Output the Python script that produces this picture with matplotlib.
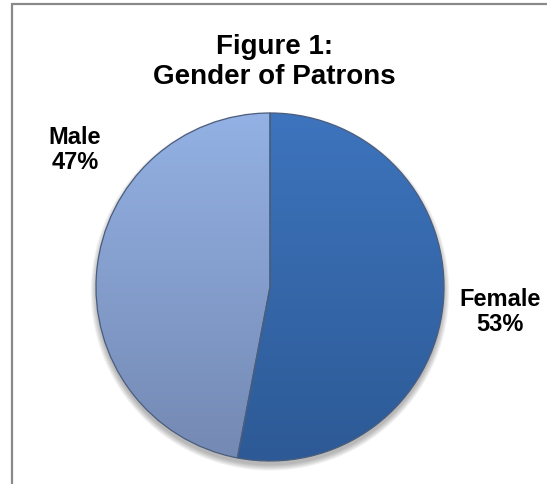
import numpy as np
import matplotlib
matplotlib.use("Agg")
import matplotlib.pyplot as plt
from matplotlib.patches import Rectangle, Circle

# data
labels = ["Female", "Male"]
shares = [53, 47]
title = "Figure 1:\nGender of Patrons"

plt.rcParams["font.family"] = ["Liberation Sans", "DejaVu Sans"]

W, H = 547, 484
fig = plt.figure(figsize=(W / 100, H / 100), dpi=100)
fig.patch.set_facecolor("white")

# outer frame (only left and top are inside the picture)
fig.patches.append(Rectangle((12 / W, -0.05), 1.2, (H - 4) / H + 0.05,
                             transform=fig.transFigure, fill=False,
                             edgecolor="#8a8a8a", linewidth=1.6))

# pie axes: centre at (270, 287) px from top-left, radius 174 px
cx, cy, r = 270, H - 287, 174
ax = fig.add_axes([(cx - r) / W, (cy - r) / H, 2 * r / W, 2 * r / H])
ax.axis("off")

# soft shadow under the pie
for k in range(6):
    ax.add_patch(Circle((0, -0.025), 1.0 + 0.006 * k, color="black",
                        alpha=0.05, lw=0, zorder=0, clip_on=False))

wedges, _ = ax.pie(shares, startangle=90, counterclock=False, radius=1,
                   colors=["#3a6db3", "#8aa6d6"],
                   wedgeprops=dict(edgecolor="#4b5d7c", linewidth=0.9))

# vertical shading inside each wedge
top_bot = [("#3d74bd", "#2d5a96"), ("#93b1e4", "#7489b3")]
yy = np.linspace(1, 0, 256)[:, None] * np.ones((1, 2))
for w, (c1, c2) in zip(wedges, top_bot):
    c1 = np.array(matplotlib.colors.to_rgb(c1))
    c2 = np.array(matplotlib.colors.to_rgb(c2))
    img = c2[None, None, :] * (1 - yy[..., None]) + c1[None, None, :] * yy[..., None]
    im = ax.imshow(img, extent=[-1, 1, -1, 1], origin="upper",
                   interpolation="bicubic", zorder=1.5, aspect="auto")
    im.set_clip_path(w)
    w.set_facecolor("none")
    w.set_zorder(2)

ax.set_xlim(-1, 1)
ax.set_ylim(-1, 1)
ax.set_aspect("equal")

# title
fig.text(274 / W, 1 - 62 / H, title, ha="center", va="center",
         fontsize=20, fontweight="bold", linespacing=1.15)

# slice labels
pos = {"Female": (500, 312), "Male": (75, 150)}
for lab, val in zip(labels, shares):
    x, y = pos[lab]
    fig.text(x / W, 1 - y / H, f"{lab}\n{val}%", ha="center", va="center",
             fontsize=17, fontweight="bold", linespacing=1.1)

fig.savefig("out.png", dpi=100)
